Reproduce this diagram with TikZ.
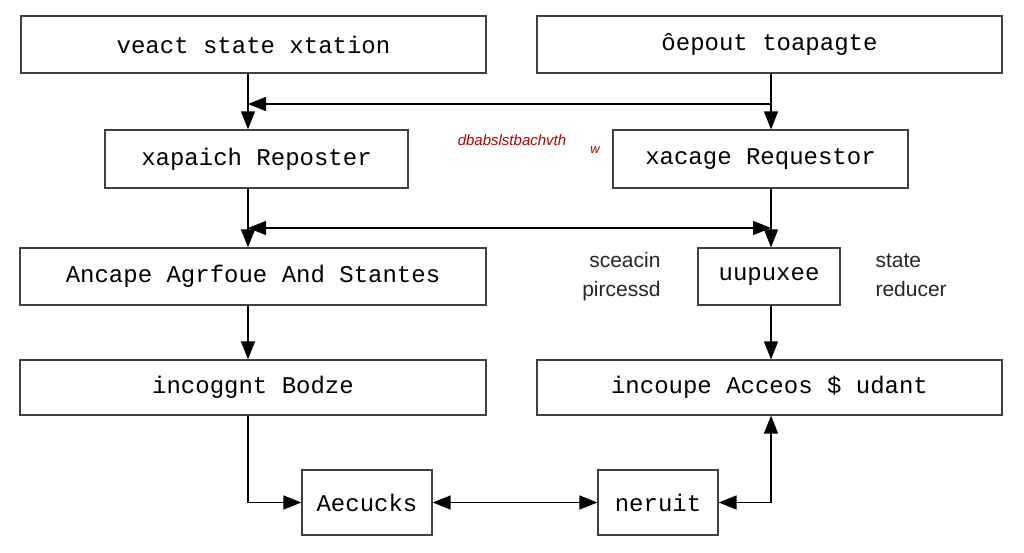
\documentclass[tikz,border=0pt]{standalone}
\usepackage{fontspec}
\setmainfont{Liberation Sans}
\newfontfamily\mono{Liberation Mono}
\usetikzlibrary{arrows.meta}
\begin{document}
\begin{tikzpicture}[x=1pt,y=-1pt,
  box/.style={draw=black!75,line width=1.2pt,inner sep=0pt,font=\mono\fontsize{24}{26}\selectfont},
  tip/.tip={Triangle[length=18pt,width=14pt]},
  arr/.style={line width=1.3pt,-tip},
  darr/.style={line width=1.3pt,tip-tip},
  lab/.style={font=\fontsize{21}{29}\selectfont,text=black!85,align=left}]
\useasboundingbox[fill=white] (0,0) rectangle (1024,553);
\newcommand{\bx}[6]{\node[box,minimum width=#4-#2,minimum height=#5-#3] (#1) at ({(#2+#4)/2},{(#3+#5)/2}) {#6};}
\bx{a}{21}{16}{486}{73}{veact state xtation}
\bx{b}{537}{16}{1002}{73}{ôepout toapagte}
\bx{c}{105}{130}{408}{188}{xapaich Reposter}
\bx{d}{613}{130}{908}{188}{xacage Requestor}
\bx{e}{20}{248}{486}{305}{Ancape Agrfoue And Stantes}
\bx{f}{698}{248}{840}{305}{uupuxee}
\bx{g}{20}{360}{486}{415}{incoggnt Bodze}
\bx{h}{537}{360}{1002}{415}{incoupe Acceos \$ udant}
\bx{i}{302}{470}{432}{535}{Aecucks}
\bx{j}{598}{470}{718}{535}{neruit}
\node[lab,anchor=east] (l1) at (664,276) {\begin{tabular}{@{}r@{}}sceacin\\pircessd\end{tabular}};
\node[lab,anchor=west] (l2) at (872,276) {\begin{tabular}{@{}l@{}}state\\reducer\end{tabular}};
\node[text=red!70!black,font=\itshape\fontsize{15}{16}\selectfont] (s1) at (512,140) {dbabslstbachvth};
\node[text=red!70!black,font=\itshape\fontsize{13}{14}\selectfont] (s2) at (595,150) {w};
\draw[arr] (a.south -| 248,0) -- (c.north -| 248,0);
\draw[arr] (b.south -| 771,0) -- (d.north -| 771,0);
\coordinate (p1) at (771,104); \coordinate (p2) at (248,104);
\draw[arr] (p1) -- (p2);
\draw[arr] (c.south -| 248,0) -- (e.north -| 248,0);
\draw[arr] (d.south -| 771,0) -- (f.north -| 771,0);
\coordinate (q1) at (248,228); \coordinate (q2) at (771,228);
\draw[darr] (q1) -- (q2);
\draw[arr] (e.south -| 248,0) -- (g.north -| 248,0);
\draw[arr] (f.south -| 771,0) -- (h.north -| 771,0);
\draw[arr] (g.south -| 248,0) |- (i.west);
\draw[darr] (i.east) -- (j.west);
\draw[darr] (j.east) -| (h.south -| 771,0);
\end{tikzpicture}
\end{document}
